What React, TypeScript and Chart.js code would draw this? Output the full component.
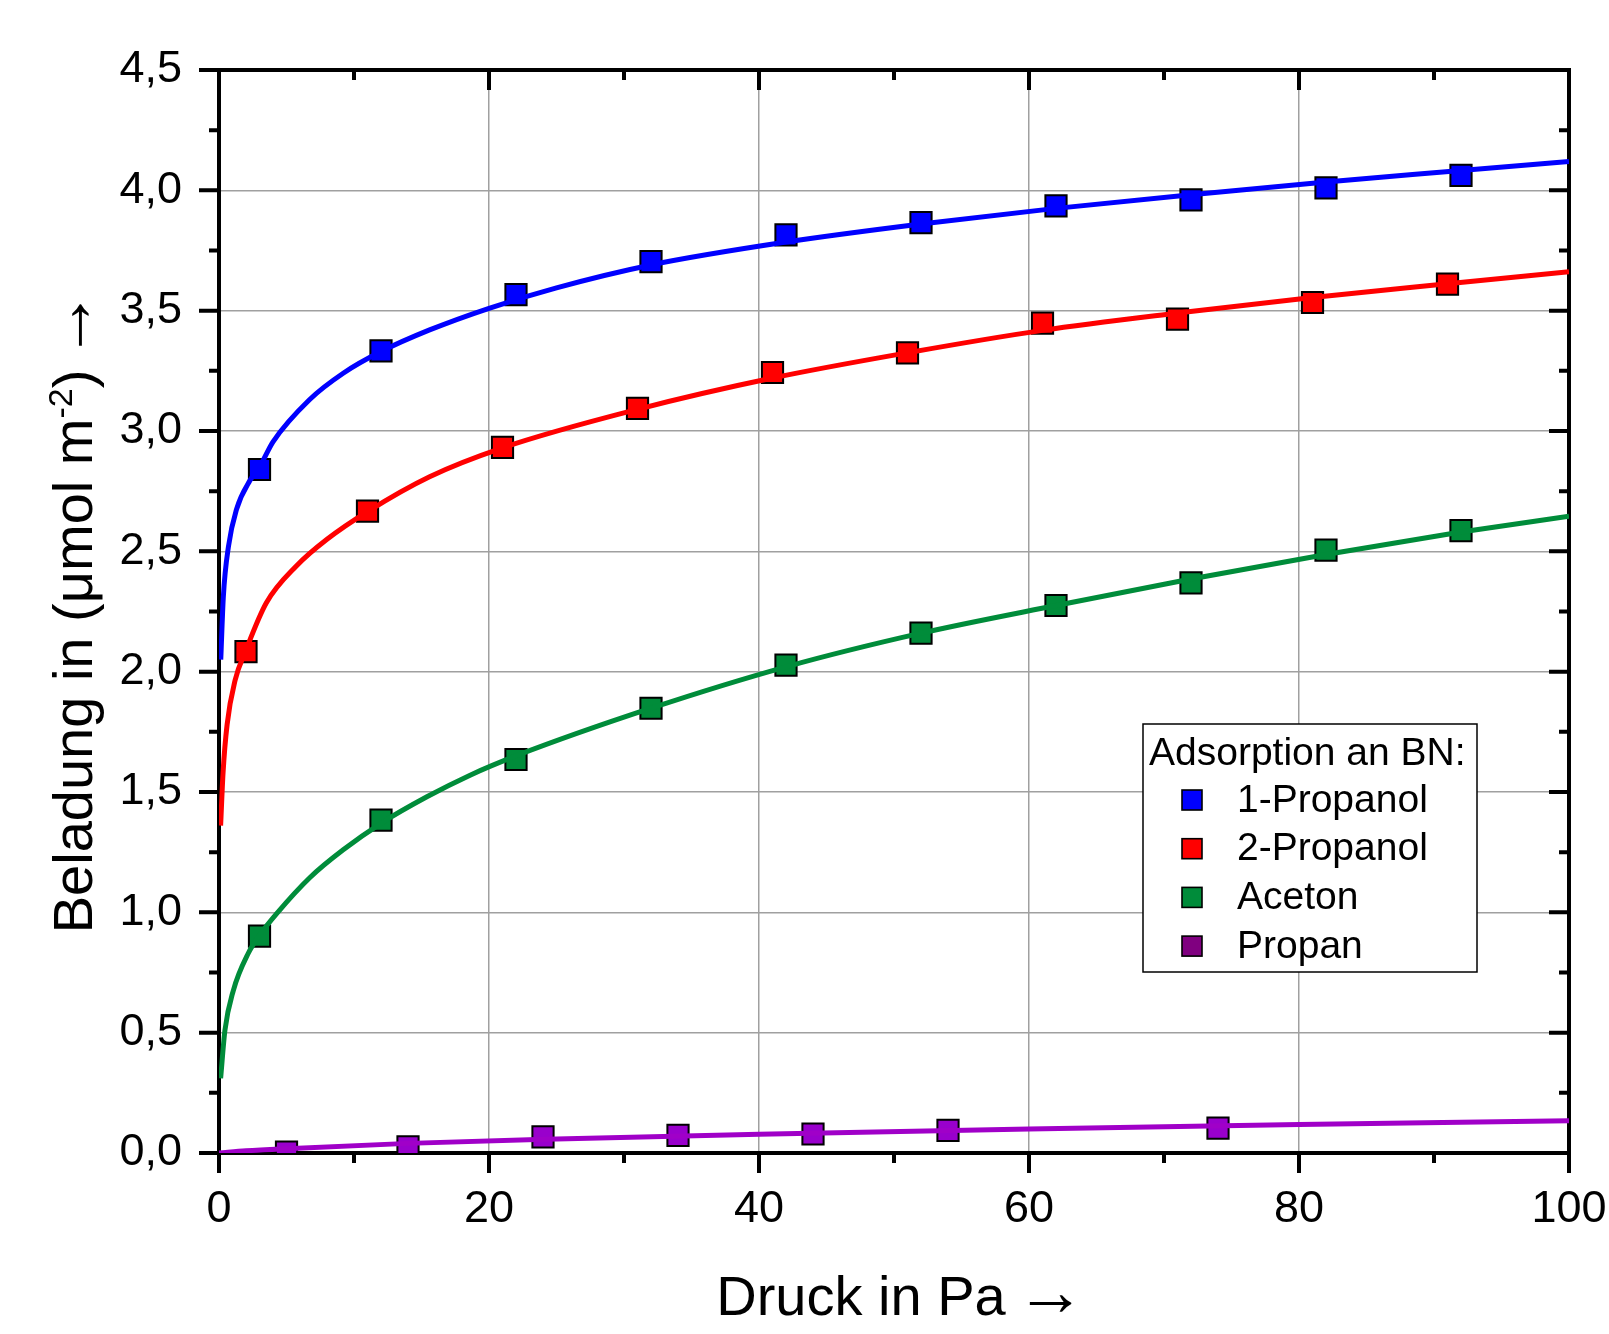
import { useEffect, useRef } from "react";
import { Chart, registerables } from "chart.js";

Chart.register(...registerables);

const FONT = "'Liberation Sans', Arial, Helvetica, sans-serif";
const ARROW_FONT = "'Liberation Serif', 'DejaVu Serif', serif";

// ---- labels ----
const xTitle = "Druck in Pa";
const yTitleMain = "Beladung in (\u03BCmol m";
const yTitleSup = "-2";
const yTitleEnd = ")";
const arrow = "\u2192";
const legendTitle = "Adsorption an BN:";
const seriesNames = ["1-Propanol", "2-Propanol", "Aceton", "Propan"];

// ---- colours ----
const markerColors = ["#0000FF", "#FF0000", "#008C3A", "#9900CC"];
const lineColors = ["#0000FF", "#FF0000", "#008C3A", "#A000C8"];
const legendColors = ["#0000FF", "#FF0000", "#008C3A", "#800080"];

// ---- axes ----
const xMin = 0;
const xMax = 100;
const xMajorStep = 20;
const xMinorStep = 10;
const yMin = 0;
const yMax = 4.5;
const yMajorStep = 0.5;
const yMinorStep = 0.25;

// ---- measured points ----
const propanol1X = [3, 12, 22, 32, 42, 52, 62, 72, 82, 92];
const propanol1Y = [2.84, 3.333, 3.567, 3.704, 3.815, 3.866, 3.935, 3.96, 4.01, 4.062];

const propanol2X = [2, 11, 21, 31, 41, 51, 61, 71, 81, 91];
const propanol2Y = [2.083, 2.667, 2.932, 3.094, 3.243, 3.325, 3.448, 3.465, 3.534, 3.61];

const acetonX = [3, 12, 22, 32, 42, 52, 62, 72, 82, 92];
const acetonY = [0.901, 1.383, 1.635, 1.848, 2.027, 2.16, 2.275, 2.369, 2.505, 2.586];

const propanX = [5, 14, 24, 34, 44, 54, 74];
const propanY = [0.004, 0.026, 0.067, 0.073, 0.079, 0.094, 0.103];

// ---- fitted curves ----
const fit1X = [0.13, 0.32, 0.7, 1.3, 2.3, 3, 4, 6.7, 9.2, 12, 15.6, 20, 25, 32, 42, 52, 62, 72, 82, 92, 100];
const fit1Y = [2.05, 2.31, 2.52, 2.675, 2.795, 2.85, 2.955, 3.13, 3.24, 3.33, 3.42, 3.51, 3.595, 3.69, 3.785, 3.86, 3.925, 3.982, 4.035, 4.082, 4.12];

const fit2X = [0.12, 0.3, 0.6, 1.2, 2, 3.5, 5.75, 8, 11, 15.6, 21, 31, 41, 51, 61, 71, 81, 91, 100];
const fit2Y = [1.36, 1.58, 1.78, 1.966, 2.09, 2.285, 2.44, 2.55, 2.665, 2.81, 2.93, 3.09, 3.22, 3.325, 3.418, 3.49, 3.555, 3.612, 3.662];

const fit3X = [0.12, 0.44, 1.06, 2.17, 3, 4.27, 6.74, 9.2, 12, 15.4, 18.6, 22, 32, 42, 52, 62, 72, 82, 92, 100];
const fit3Y = [0.31, 0.51, 0.675, 0.83, 0.905, 0.995, 1.145, 1.26, 1.37, 1.48, 1.57, 1.65, 1.848, 2.02, 2.16, 2.275, 2.385, 2.487, 2.58, 2.646];

const fit4X = [0, 2, 5, 14, 25, 40, 60, 80, 100];
const fit4Y = [0, 0.009, 0.018, 0.04, 0.058, 0.078, 0.1, 0.118, 0.134];

const markerXs = [propanol1X, propanol2X, acetonX, propanX];
const markerYs = [propanol1Y, propanol2Y, acetonY, propanY];
const fitXs = [fit1X, fit2X, fit3X, fit4X];
const fitYs = [fit1Y, fit2Y, fit3Y, fit4Y];

const zip = (xs: number[], ys: number[]) => xs.map((x, i) => ({ x, y: ys[i] }));

const TITLE_SIZE = 56;
const ARROW_SIZE = 70;
const ARROW_GAP = 10;

const framePlugin = {
  id: "frameTicks",
  beforeDatasetsDraw(chart: any) {
    const { ctx, chartArea } = chart;
    const { left, right, top, bottom } = chartArea;
    const xs = chart.scales.x;
    const ys = chart.scales.y;
    ctx.save();
    ctx.strokeStyle = "#000";
    ctx.lineWidth = 4;
    ctx.lineCap = "butt";
    ctx.beginPath();
    for (let v = xMin; v <= xMax + 1e-9; v += xMinorStep) {
      const major = Math.abs(v / xMajorStep - Math.round(v / xMajorStep)) < 1e-6;
      const len = major ? 20 : 10;
      const px = xs.getPixelForValue(v);
      ctx.moveTo(px, bottom);
      ctx.lineTo(px, bottom + len);
      ctx.moveTo(px, top);
      ctx.lineTo(px, top + len);
    }
    for (let v = yMin; v <= yMax + 1e-9; v += yMinorStep) {
      const major = Math.abs(v / yMajorStep - Math.round(v / yMajorStep)) < 1e-6;
      const len = major ? 20 : 10;
      const py = ys.getPixelForValue(v);
      ctx.moveTo(left - len, py);
      ctx.lineTo(left, py);
      ctx.moveTo(right - len, py);
      ctx.lineTo(right, py);
    }
    ctx.stroke();
    ctx.lineJoin = "miter";
    ctx.strokeRect(left, top, right - left, bottom - top);
    ctx.restore();
  },
  afterDraw(chart: any) {
    const { ctx, chartArea } = chart;
    const { left, right, top, bottom } = chartArea;
    const tf = TITLE_SIZE;
    const mainFont = `${tf}px ${FONT}`;
    const arrowFont = `${ARROW_SIZE}px ${ARROW_FONT}`;
    const supFont = `${Math.round(tf * 0.6)}px ${FONT}`;

    ctx.save();
    ctx.fillStyle = "#000";
    ctx.textBaseline = "alphabetic";
    ctx.textAlign = "left";

    // x title
    ctx.font = mainFont;
    const xw = ctx.measureText(xTitle).width;
    ctx.font = arrowFont;
    const aw = ctx.measureText(arrow).width;
    const xTotal = xw + ARROW_GAP + aw;
    const xs0 = (left + right) / 2 - xTotal / 2 + 7;
    ctx.font = mainFont;
    ctx.fillText(xTitle, xs0, 1315);
    ctx.font = arrowFont;
    ctx.fillText(arrow, xs0 + xw + ARROW_GAP, 1315);

    // y title (rotated)
    ctx.font = mainFont;
    const w1 = ctx.measureText(yTitleMain).width;
    const w3 = ctx.measureText(yTitleEnd).width;
    ctx.font = supFont;
    const w2 = ctx.measureText(yTitleSup).width;
    const total = w1 + w2 + w3 + ARROW_GAP + aw;
    ctx.translate(92, (top + bottom) / 2);
    ctx.rotate(-Math.PI / 2);
    let sx = -total / 2;
    ctx.font = mainFont;
    ctx.fillText(yTitleMain, sx, 0);
    sx += w1;
    ctx.font = supFont;
    ctx.fillText(yTitleSup, sx, -tf * 0.36);
    sx += w2;
    ctx.font = mainFont;
    ctx.fillText(yTitleEnd, sx, 0);
    sx += w3 + ARROW_GAP;
    ctx.font = arrowFont;
    ctx.fillText(arrow, sx, 0);
    ctx.restore();

    // legend
    ctx.save();
    const bx = 1143;
    const by = 724;
    const bw = 334;
    const bh = 248;
    ctx.fillStyle = "#fff";
    ctx.fillRect(bx, by, bw, bh);
    ctx.strokeStyle = "#000";
    ctx.lineWidth = 1.5;
    ctx.strokeRect(bx, by, bw, bh);
    ctx.fillStyle = "#000";
    ctx.font = `39px ${FONT}`;
    ctx.textAlign = "left";
    ctx.textBaseline = "alphabetic";
    ctx.fillText(legendTitle, 1149, 765);
    ctx.textBaseline = "middle";
    seriesNames.forEach((name, i) => {
      const cy = 800 + i * 48.7;
      ctx.fillStyle = legendColors[i];
      ctx.fillRect(1182, cy - 10, 20, 20);
      ctx.strokeStyle = "#000";
      ctx.lineWidth = 1.6;
      ctx.strokeRect(1182, cy - 10, 20, 20);
      ctx.fillStyle = "#000";
      ctx.fillText(name, 1237, cy + 1);
    });
    ctx.restore();
  },
};

export default function App() {
  const canvasRef = useRef<HTMLCanvasElement | null>(null);

  useEffect(() => {
    document.body.style.margin = "0";
    const canvas = canvasRef.current;
    if (!canvas) return;

    const lineSets = fitXs.map((xs, i) => ({
      label: seriesNames[i] + " fit",
      data: zip(xs, fitYs[i]),
      showLine: true,
      borderColor: lineColors[i],
      backgroundColor: lineColors[i],
      borderWidth: 5,
      pointRadius: 0,
      pointHoverRadius: 0,
      cubicInterpolationMode: "monotone" as const,
      fill: false,
      order: 0,
    }));
    const markerSets = markerXs.map((xs, i) => ({
      label: seriesNames[i],
      data: zip(xs, markerYs[i]),
      showLine: false,
      pointStyle: "rect" as const,
      pointRadius: 15,
      pointHoverRadius: 15,
      pointBackgroundColor: markerColors[i],
      pointBorderColor: "#000",
      pointBorderWidth: 2,
      order: 1,
    }));

    const chart = new Chart(canvas, {
      type: "scatter",
      data: { datasets: [...lineSets, ...markerSets] as any },
      options: {
        responsive: false,
        animation: false,
        devicePixelRatio: 1,
        layout: { padding: { top: 70, right: 40, left: 0, bottom: 0 } },
        plugins: {
          legend: { display: false },
          tooltip: { enabled: false },
        },
        scales: {
          x: {
            type: "linear",
            min: xMin,
            max: xMax,
            ticks: {
              stepSize: xMajorStep,
              color: "#000",
              font: { family: FONT, size: 45 },
              padding: 30,
              maxRotation: 0,
            },
            grid: { color: "#a0a0a0", lineWidth: 1.5, drawTicks: false },
            border: { display: false },
            afterFit: (s: any) => {
              s.height = 181;
              s.paddingLeft = 0;
              s.paddingRight = 0;
            },
          },
          y: {
            type: "linear",
            min: yMin,
            max: yMax,
            ticks: {
              stepSize: yMajorStep,
              color: "#000",
              font: { family: FONT, size: 45 },
              padding: 37,
              callback: (v: any) => Number(v).toFixed(1).replace(".", ","),
            },
            grid: { color: "#a0a0a0", lineWidth: 1.5, drawTicks: false },
            border: { display: false },
            afterFit: (s: any) => {
              s.width = 219;
              s.paddingTop = 0;
              s.paddingBottom = 0;
            },
          },
        },
      },
      plugins: [framePlugin],
    });
    return () => chart.destroy();
  }, []);

  return (
    <div style={{ width: 1609, height: 1334, background: "#fff" }}>
      <canvas ref={canvasRef} width={1609} height={1334} style={{ display: "block" }} />
    </div>
  );
}
